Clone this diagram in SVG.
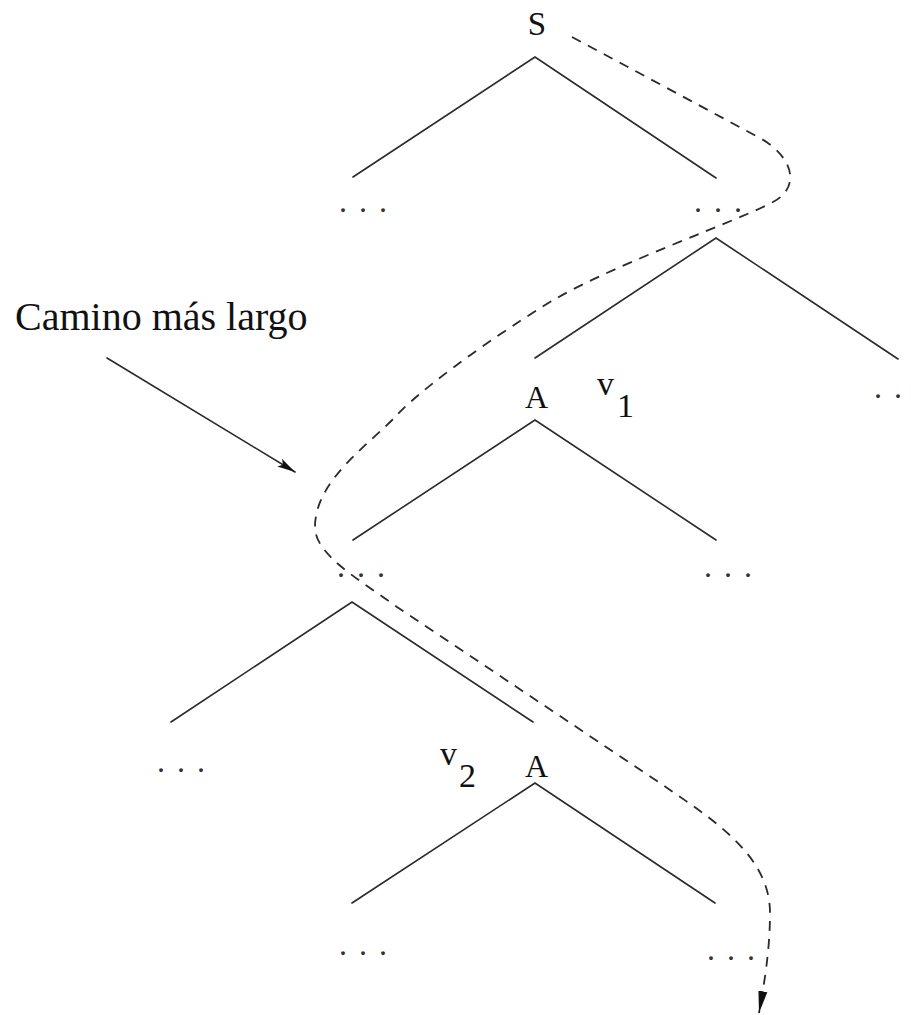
<svg xmlns="http://www.w3.org/2000/svg" width="911" height="1015" viewBox="0 0 911 1015">
<defs>
<style>
.edge{stroke:#2a2a2a;stroke-width:1.6;fill:none;stroke-linecap:round}
.lbl{font-family:"Liberation Serif","Times New Roman",serif;fill:#111}
.dots{font-family:"Liberation Serif","Times New Roman",serif;fill:#333;font-size:32px}
.path{stroke:#2a2a2a;stroke-width:1.8;fill:none;stroke-dasharray:10 8}
</style>
<marker id="ah" markerUnits="userSpaceOnUse" viewBox="0 0 22 10" refX="22" refY="5" markerWidth="22" markerHeight="10" orient="auto">
<path d="M0,0.5 L22,5 L0,9.5 Z" fill="#111"/>
</marker>
<marker id="ah2" markerUnits="userSpaceOnUse" viewBox="0 0 18 10" refX="18" refY="5" markerWidth="18" markerHeight="10" orient="auto">
<path d="M0,0.5 L18,5 L0,9.5 L4,5 Z" fill="#111"/>
</marker>
</defs>
<rect width="911" height="1015" fill="#fff"/>

<g id="tree1">
<text class="lbl" x="537" y="35" font-size="33" text-anchor="middle">S</text>
<path class="edge" d="M353,177 L535,57 L716,178"/>
<text class="dots" x="339 359 379" y="212">...</text>
<text class="dots" x="694 714 734" y="212">...</text>
</g>

<g id="tree2">
<path class="edge" d="M535,358 L716,238 L898,359"/>
<text class="dots" x="874 894" y="398">..</text>
</g>

<g id="tree3">
<text class="lbl" x="536.5" y="408" font-size="32" text-anchor="middle">A</text>
<text class="lbl" x="597" y="395" font-size="34">v</text>
<text class="lbl" x="617" y="417" font-size="34">1</text>
<path class="edge" d="M353,540 L535,420 L716,540"/>
<text class="dots" x="337 357 377" y="577">...</text>
<text class="dots" x="704 724 744" y="577">...</text>
</g>

<g id="tree4">
<path class="edge" d="M171,722 L352,602 L533,722"/>
<text class="dots" x="157 177 197" y="772">...</text>
</g>

<g id="tree5">
<text class="lbl" x="440" y="765" font-size="34">v</text>
<text class="lbl" x="459" y="787" font-size="34">2</text>
<text class="lbl" x="536.5" y="777" font-size="32" text-anchor="middle">A</text>
<path class="edge" d="M352,903 L535,783 L715,903"/>
<text class="dots" x="339 359 379" y="955">...</text>
<text class="dots" x="707 727 747" y="960">...</text>
</g>

<g id="label">
<text class="lbl" x="15" y="330" font-size="40">Camino más largo</text>
</g>

<g id="connectors">
<path class="edge" d="M107,358 L295,472" marker-end="url(#ah2)"/>
<path class="path" d="M572,37 L760,138 C795,158 800,188 773,202 C740,220 620,262 557,298 C522,318 430,380 397,415 C370,444 315,480 315,527 C315,555 360,580 397,607 L663,785 C713,820 770,855 770,913 C770,950 764,985 759,1013" marker-end="url(#ah)"/>
</g>
</svg>
